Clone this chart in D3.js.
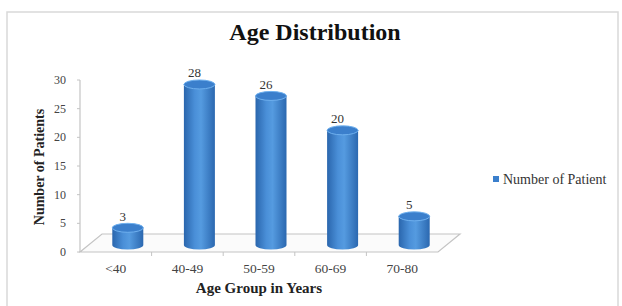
<!DOCTYPE html>
<html>
<head>
<meta charset="utf-8">
<script src="https://cdn.jsdelivr.net/npm/d3@7"></script>
<style>
  body { margin: 0; background: #fff; }
  text { font-family: "Liberation Serif", "DejaVu Serif", serif; }
</style>
</head>
<body>
<div id="chart"></div>
<script>
// Chart data
const categories = ["<40", "40-49", "50-59", "60-69", "70-80"];
const patients = [3, 28, 26, 20, 5];
const yTicks = [0, 5, 10, 15, 20, 25, 30];
const seriesName = "Number of Patient";

const svg = d3.select("#chart").append("svg")
  .attr("width", 622)
  .attr("height", 306);

// outer frame
svg.append("rect")
  .attr("x", 7).attr("y", 12)
  .attr("width", 611).attr("height", 310)
  .attr("fill", "none")
  .attr("stroke", "#d9d9d9")
  .attr("stroke-width", 1.5);

let x = d3.scaleBand().domain(categories).range([80, 438]);
let y = d3.scaleLinear().domain([0, 30]).range([252, 80]);

// 3D depth of the floor, and where the cylinders sit in it
let depth = { dx: 22, dy: -18 };
let mid = { dx: 12, dy: -7 };

// gradient for the cylinder bodies
let defs = svg.append("defs");
let grad = defs.append("linearGradient").attr("id", "body")
  .attr("x1", "0").attr("x2", "1").attr("y1", "0").attr("y2", "0");
grad.append("stop").attr("offset", "0%").attr("stop-color", "#2a66ad");
grad.append("stop").attr("offset", "35%").attr("stop-color", "#4a8fd8");
grad.append("stop").attr("offset", "55%").attr("stop-color", "#559be0");
grad.append("stop").attr("offset", "100%").attr("stop-color", "#2b68b0");

// floor
let x0 = x.range()[0], x1 = x.range()[1], y0 = y(0);
svg.append("polygon")
  .attr("points", [
    [x0, y0], [x1, y0], [x1 + depth.dx, y0 + depth.dy], [x0 + depth.dx, y0 + depth.dy]
  ].map(p => p.join(",")).join(" "))
  .attr("fill", "#fbfbfb")
  .attr("stroke", "#c4c4c4")
  .attr("stroke-width", 1.2);

// y axis
svg.append("line")
  .attr("x1", x0).attr("x2", x0)
  .attr("y1", y(30)).attr("y2", y0)
  .attr("stroke", "#c4c4c4").attr("stroke-width", 1.2);
svg.append("g").selectAll("line").data(yTicks).join("line")
  .attr("x1", x0 - 3).attr("x2", x0)
  .attr("y1", d => y(d)).attr("y2", d => y(d))
  .attr("stroke", "#c4c4c4");
svg.append("g").selectAll("text").data(yTicks).join("text")
  .attr("x", 66)
  .attr("y", d => y(d) + 4)
  .attr("text-anchor", "end")
  .attr("font-size", 12)
  .attr("fill", "#444")
  .text(d => d);

// category ticks on the front edge
svg.append("g").selectAll("line").data(categories.slice(1)).join("line")
  .attr("x1", d => x(d)).attr("x2", d => x(d))
  .attr("y1", y0).attr("y2", y0 + 4)
  .attr("stroke", "#c4c4c4");
svg.append("g").selectAll("text").data(categories).join("text")
  .attr("x", d => x(d) + x.bandwidth() / 2)
  .attr("y", 273)
  .attr("text-anchor", "middle")
  .attr("font-size", 13.5)
  .attr("fill", "#444")
  .text(d => d);

// cylinders
let bw = 31, rx = bw / 2, ry = 4.5;
let bars = svg.append("g").selectAll("g").data(patients).join("g");
bars.each(function (v, i) {
  let g = d3.select(this);
  let cx = x(categories[i]) + x.bandwidth() / 2 + mid.dx;
  let bottom = y(0) + mid.dy;
  let top = y(v) + mid.dy;
  g.append("path")
    .attr("d", "M" + (cx - rx) + "," + top
      + " L" + (cx - rx) + "," + bottom
      + " A" + rx + "," + ry + " 0 0 0 " + (cx + rx) + "," + bottom
      + " L" + (cx + rx) + "," + top + " Z")
    .attr("fill", "url(#body)");
  g.append("ellipse")
    .attr("cx", cx).attr("cy", top)
    .attr("rx", rx).attr("ry", ry)
    .attr("fill", "#3b7fcc")
    .attr("stroke", "#6fb0ee")
    .attr("stroke-width", 1);
  g.append("text")
    .attr("x", cx - 5)
    .attr("y", top - 7)
    .attr("text-anchor", "middle")
    .attr("font-size", 13)
    .attr("fill", "#333")
    .text(v);
});

// titles
svg.append("text")
  .attr("x", 315).attr("y", 40)
  .attr("text-anchor", "middle")
  .attr("font-size", 24)
  .attr("font-weight", "bold")
  .attr("fill", "#111")
  .text("Age Distribution");
svg.append("text")
  .attr("x", 259).attr("y", 293)
  .attr("text-anchor", "middle")
  .attr("font-size", 15)
  .attr("font-weight", "bold")
  .attr("fill", "#222")
  .text("Age Group in Years");
svg.append("text")
  .attr("transform", "translate(44,167) rotate(-90)")
  .attr("text-anchor", "middle")
  .attr("font-size", 14)
  .attr("font-weight", "bold")
  .attr("fill", "#222")
  .text("Number of Patients");

// legend
svg.append("rect")
  .attr("x", 493).attr("y", 176)
  .attr("width", 6).attr("height", 6)
  .attr("fill", "#3b7fcc");
svg.append("text")
  .attr("x", 503).attr("y", 184)
  .attr("font-size", 14)
  .attr("fill", "#333")
  .text(seriesName);
</script>
</body>
</html>
